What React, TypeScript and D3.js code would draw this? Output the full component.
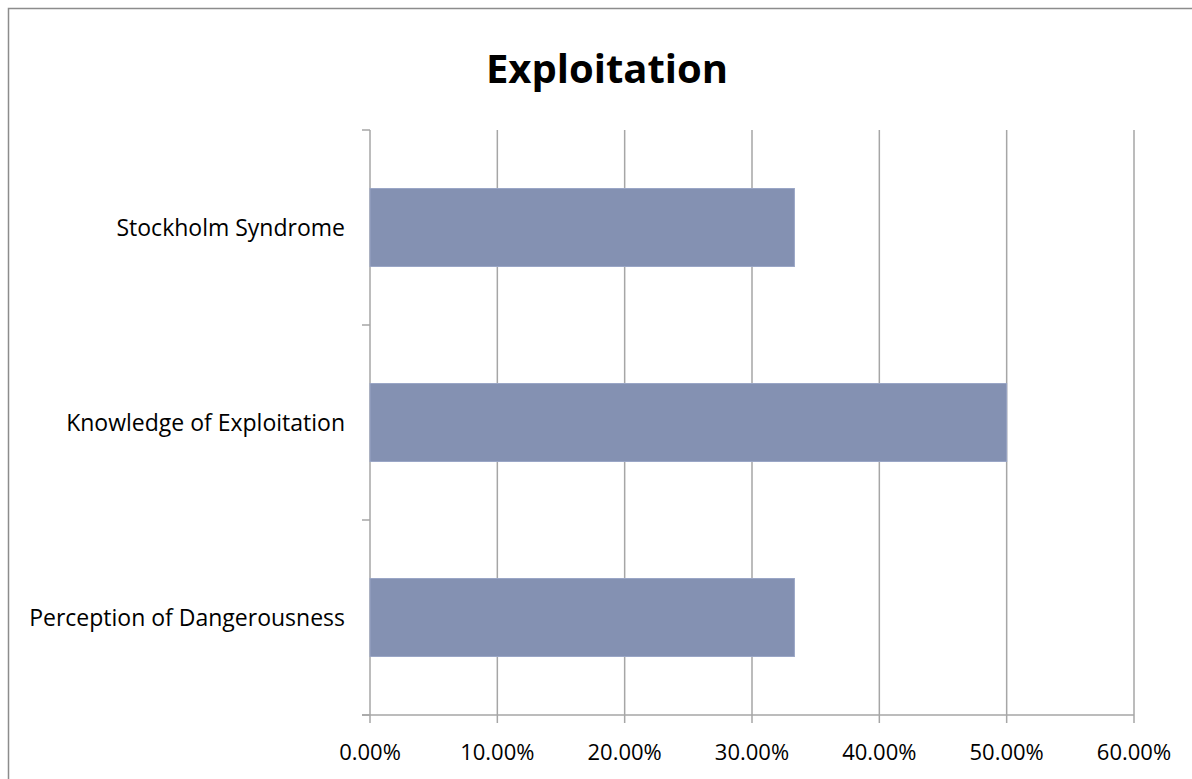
import React from "react";
import * as d3 from "d3";

const categories: string[] = ["Stockholm Syndrome", "Knowledge of Exploitation", "Perception of Dangerousness"];
const values: number[] = [0.3333, 0.5, 0.3333];
const xTicks: number[] = [0, 0.1, 0.2, 0.3, 0.4, 0.5, 0.6];
const title = "Exploitation";

const W = 1192;
const H = 779;
const left = 370;
const right = 1134;
const top = 130;
const bottom = 715;
const font = "'Open Sans', sans-serif";
const gridColor = "#a6a6a6";

export default function App() {
  const x = d3.scaleLinear().domain([0, 0.6]).range([left, right]);
  const y = d3.scaleBand<string>().domain(categories).range([top, bottom]).paddingInner(0.6).paddingOuter(0.3);
  const fmt = d3.format(".2%");
  const step = y.step();
  const boundaries = d3.range(categories.length + 1).map((i) => top + i * step);

  return (
    <svg width={W} height={H} style={{ position: "absolute", left: 0, top: 0, background: "#fff" }}>
      <rect x={8.5} y={8.5} width={W + 20} height={H + 20} fill="#fff" stroke="#8c8c8c" strokeWidth={1.5} />
      <text x={607} y={83} textAnchor="middle" fontFamily={font} fontWeight="bold" fontSize={40} fill="#000">
        {title}
      </text>
      {xTicks.map((t) => (
        <line key={"g" + t} x1={x(t)} x2={x(t)} y1={top} y2={bottom + 8} stroke={gridColor} strokeWidth={1.5} />
      ))}
      <line x1={left - 8} x2={right} y1={bottom} y2={bottom} stroke={gridColor} strokeWidth={1.5} />
      {boundaries.map((b, i) => (
        <line key={"yt" + i} x1={left - 8} x2={left} y1={b} y2={b} stroke={gridColor} strokeWidth={1.5} />
      ))}
      {categories.map((c, i) => (
        <rect
          key={c}
          x={x(0)}
          y={y(c)}
          width={x(values[i]) - x(0)}
          height={y.bandwidth()}
          fill="#8491b2"
          stroke="#9aa6c6"
          strokeWidth={1}
        />
      ))}
      {categories.map((c) => (
        <text key={"l" + c} x={left - 25} y={(y(c) as number) + y.bandwidth() / 2 + 8} textAnchor="end" fontFamily={font} fontSize={23} fill="#000">
          {c}
        </text>
      ))}
      {xTicks.map((t) => (
        <text key={"t" + t} x={x(t)} y={760} textAnchor="middle" fontFamily={font} fontSize={22} fill="#000">
          {fmt(t)}
        </text>
      ))}
    </svg>
  );
}
